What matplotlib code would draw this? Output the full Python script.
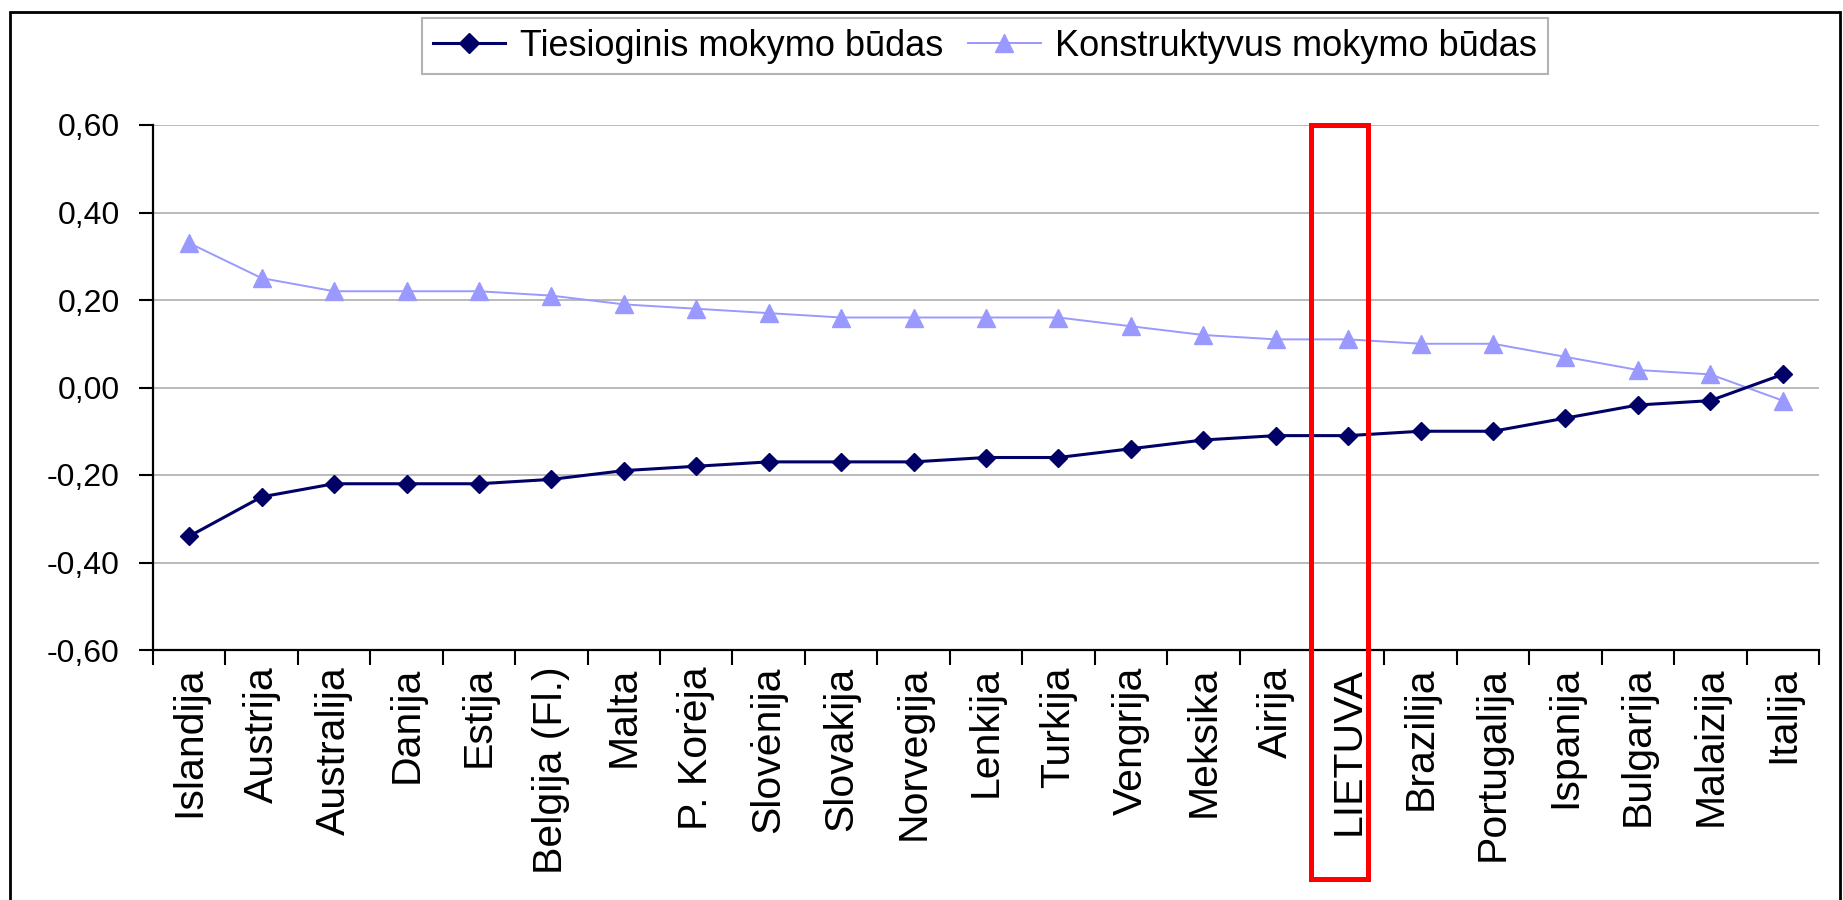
import matplotlib
matplotlib.use('Agg')
import matplotlib.pyplot as plt
import matplotlib.transforms as mtransforms
from matplotlib.patches import Rectangle
from matplotlib.ticker import FixedLocator, FuncFormatter

countries = ["Islandija", "Austrija", "Australija", "Danija", "Estija", "Belgija (Fl.)",
             "Malta", "P. Korėja", "Slovėnija", "Slovakija", "Norvegija", "Lenkija",
             "Turkija", "Vengrija", "Meksika", "Airija", "LIETUVA", "Brazilija",
             "Portugalija", "Ispanija", "Bulgarija", "Malaizija", "Italija"]
tiesioginis = [-0.34, -0.25, -0.22, -0.22, -0.22, -0.21, -0.19, -0.18, -0.17, -0.17,
               -0.17, -0.16, -0.16, -0.14, -0.12, -0.11, -0.11, -0.10, -0.10, -0.07,
               -0.04, -0.03, 0.03]
konstruktyvus = [0.33, 0.25, 0.22, 0.22, 0.22, 0.21, 0.19, 0.18, 0.17, 0.16,
                 0.16, 0.16, 0.16, 0.14, 0.12, 0.11, 0.11, 0.10, 0.10, 0.07,
                 0.04, 0.03, -0.03]
series_names = ["Tiesioginis mokymo būdas", "Konstruktyvus mokymo būdas"]
y_ticks = [-0.60, -0.40, -0.20, 0.00, 0.20, 0.40, 0.60]
highlight = "LIETUVA"

plt.rcParams['font.family'] = ['Liberation Sans', 'DejaVu Sans']

W, H = 1843, 900
fig = plt.figure(figsize=(W / 100, H / 100), dpi=100)
fig.patch.set_facecolor('white')

ax = fig.add_axes([153 / W, 1 - 650 / H, (1819 - 153) / W, (650 - 125) / H])
x = list(range(len(countries)))

ax.plot(x, tiesioginis, color='#000066', lw=2.2, marker='D', ms=9.5,
        mec='#000066', mfc='#000066', label=series_names[0], zorder=4)
ax.plot(x, konstruktyvus, color='#9999FF', lw=1.4, marker='^', ms=13,
        mec='#9999FF', mfc='#9999FF', label=series_names[1], zorder=3)

ax.set_xlim(-0.5, len(countries) - 0.5)
ax.set_ylim(y_ticks[0], y_ticks[-1])
ax.yaxis.set_major_locator(FixedLocator(y_ticks))
ax.yaxis.set_major_formatter(FuncFormatter(lambda v, p: f"{v:.2f}".replace('.', ',')))
ax.grid(axis='y', color='#b4b4b4', lw=1.3, zorder=0)
ax.set_axisbelow(True)

ax.set_xticks(x)
ax.set_xticklabels(countries, rotation=90, fontsize=29.5, va='top', ha='center')
ax.set_xticks([i - 0.5 for i in range(len(countries) + 1)], minor=True)
ax.tick_params(axis='x', which='major', length=0, pad=12)
ax.tick_params(axis='x', which='minor', length=11, width=1.5, direction='out')
ax.tick_params(axis='y', which='major', length=10, width=1.5, direction='out',
               labelsize=23, pad=14)

for s in ['top', 'right']:
    ax.spines[s].set_visible(False)
for s in ['left', 'bottom']:
    ax.spines[s].set_linewidth(1.6)
    ax.spines[s].set_color('black')

# highlight box around LIETUVA
idx = countries.index(highlight)
trans = mtransforms.blended_transform_factory(ax.transData, fig.transFigure)
box = Rectangle((idx - 0.52, 1 - 879 / H), 0.79, (879 - 125) / H, transform=trans,
                fill=False, edgecolor='#ff0000', lw=3.6, clip_on=False, zorder=10)
ax.add_patch(box)

leg = fig.legend(loc='center', bbox_to_anchor=(985 / W, 1 - 46 / H), ncol=2,
                 fontsize=26, frameon=True, fancybox=False, handlelength=2.0,
                 handletextpad=0.4, columnspacing=0.7, borderpad=0.3,
                 markerscale=1.05)
leg.get_frame().set_edgecolor('#a0a0a0')
leg.get_frame().set_linewidth(1.5)

# outer chart border
fig.patches.append(Rectangle((10 / W, -0.02), (1840 - 10) / W, 1.02 - 12 / H,
                             transform=fig.transFigure, fill=False,
                             edgecolor='black', lw=2, zorder=20))

fig.savefig('out.png', dpi=100, facecolor='white')
